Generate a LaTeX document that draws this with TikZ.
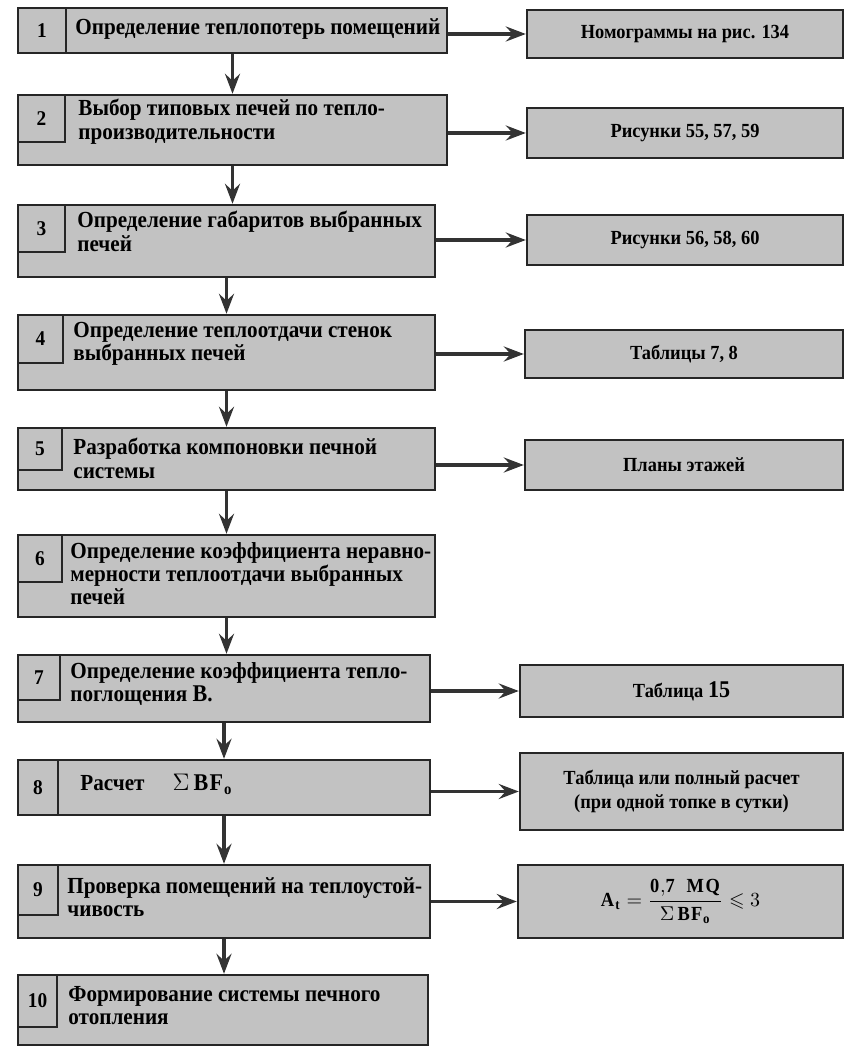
\documentclass[tikz,border=0pt]{standalone}
\usepackage{amsmath,amssymb}
\usepackage{fontspec}
\setmainfont[FakeStretch=0.92]{Liberation Serif}
\usetikzlibrary{arrows.meta,fit}

\begin{document}
\begin{tikzpicture}[x=.5pt,y=-.5pt,
  stagebox/.style={draw=black!85,line width=1.2pt,fill=gray!48,inner sep=0pt},
  numcell/.style={draw=black!85,line width=.9pt,inner sep=0pt},
  boxtxt/.style={inner sep=0pt,align=center,font=\fontsize{10.5}{12}\selectfont\bfseries},
  stagetxt/.style={anchor=north west,align=left,inner sep=0pt,font=\fontsize{11.5}{11.6}\selectfont\bfseries},
  refbox/.style={draw=black!85,line width=1.2pt,fill=gray!48,inner sep=0pt},
  reftxt/.style={inner sep=0pt,align=center,font=\fontsize{10}{11.6}\selectfont\bfseries},
  flow/.style={-{Stealth[length=10pt,width=7.5pt,inset=3.5pt]},line width=1.8pt,black!80}]
\useasboundingbox (0,0) rectangle (845,1047);
% stages
\node[stagebox,fit={(18,8)(447,53)}] (s1) {};\node[numcell,fit={(18,8)(66,53)},label={[boxtxt]center:1}] (n1) {};
\node[stagetxt] (t1) at (75,18) {Определение теплопотерь помещений};
\node[stagebox,fit={(18,95)(447,165)}] (s2) {};\node[numcell,fit={(18,95)(65,142)},label={[boxtxt]center:2}] (n2) {};
\node[stagetxt] (t2) at (78,99) {Выбор типовых печей по тепло-\\производительности};
\node[stagebox,fit={(18,205)(435,277)}] (s3) {};\node[numcell,fit={(18,205)(65,252)},label={[boxtxt]center:3}] (n3) {};
\node[stagetxt] (t3) at (77,211) {Определение габаритов выбранных\\печей};
\node[stagebox,fit={(18,315)(435,390)}] (s4) {};\node[numcell,fit={(18,315)(63,363)},label={[boxtxt]center:4}] (n4) {};
\node[stagetxt] (t4) at (73,322) {Определение теплоотдачи стенок\\выбранных печей};
\node[stagebox,fit={(18,428)(435,490)}] (s5) {};\node[numcell,fit={(18,428)(62,470)},label={[boxtxt]center:5}] (n5) {};
\node[stagetxt] (t5) at (73,438) {Разработка компоновки печной\\системы};
\node[stagebox,fit={(18,535)(435,617)}] (s6) {};\node[numcell,fit={(18,535)(62,582)},label={[boxtxt]center:6}] (n6) {};
\node[stagetxt] (t6) at (70,542) {Определение коэффициента неравно-\\мерности теплоотдачи выбранных\\печей};
\node[stagebox,fit={(18,655)(430,722)}] (s7) {};\node[numcell,fit={(18,655)(60,700)},label={[boxtxt]center:7}] (n7) {};
\node[stagetxt] (t7) at (70,662) {Определение коэффициента тепло-\\поглощения {\large B}.};
\node[stagebox,fit={(18,760)(430,815)}] (s8) {};\node[numcell,fit={(18,760)(58,815)},label={[boxtxt]center:8}] (n8) {};
\node[stagetxt] (t8) at (80,774) {Расчет\hspace{14pt}{\large$\Sigma\,\mathbf{BF_o}$}};
\node[stagebox,fit={(18,865)(430,938)}] (s9) {};\node[numcell,fit={(18,865)(58,915)},label={[boxtxt]center:9}] (n9) {};
\node[stagetxt] (t9) at (67,877) {Проверка помещений на теплоустой-\\чивость};
\node[stagebox,fit={(18,975)(428,1045)}] (s10) {};\node[numcell,fit={(18,975)(57,1027)},label={[boxtxt]center:10}] (n10) {};
\node[stagetxt] (t10) at (68,986) {Формирование системы печного\\отопления};
% sources
\node[refbox,fit={(527,10)(843,58)},label={[reftxt]center:Номограммы на рис. 134}] (r1) {};
\node[refbox,fit={(527,108)(843,158)},label={[reftxt]center:Рисунки 55, 57, 59}] (r2) {};
\node[refbox,fit={(527,215)(843,265)},label={[reftxt]center:Рисунки 56, 58, 60}] (r3) {};
\node[refbox,fit={(525,330)(843,378)},label={[reftxt]center:Таблицы 7, 8}] (r4) {};
\node[refbox,fit={(525,440)(843,490)},label={[reftxt]center:Планы этажей}] (r5) {};
\node[refbox,fit={(520,665)(843,717)},label={[reftxt]center:Таблица {\large 15}}] (r7) {};
\node[refbox,fit={(520,753)(843,830)},label={[reftxt]center:Таблица или полный расчет\\(при одной топке в сутки)}] (r8) {};
\node[refbox,fit={(518,865)(843,938)},label={[reftxt]center:$\mathbf{A_t}=\dfrac{\mathbf{0{,}7\;\;MQ}}{\Sigma\,\mathbf{BF_o}}\leqslant 3$}] (r9) {};
% arrows
\foreach \a/\b in {s1/s2,s2/s3,s3/s4,s4/s5,s5/s6,s6/s7,s7/s8,s8/s9,s9/s10}
  \draw[flow] (\a.south) -- (\a.south |- \b.north);
\foreach \a/\b in {s1/r1,s2/r2,s3/r3,s4/r4,s5/r5,s7/r7,s8/r8,s9/r9}
  \draw[flow] (\a.east |- \b.west) -- (\b.west);
\end{tikzpicture}
\end{document}
